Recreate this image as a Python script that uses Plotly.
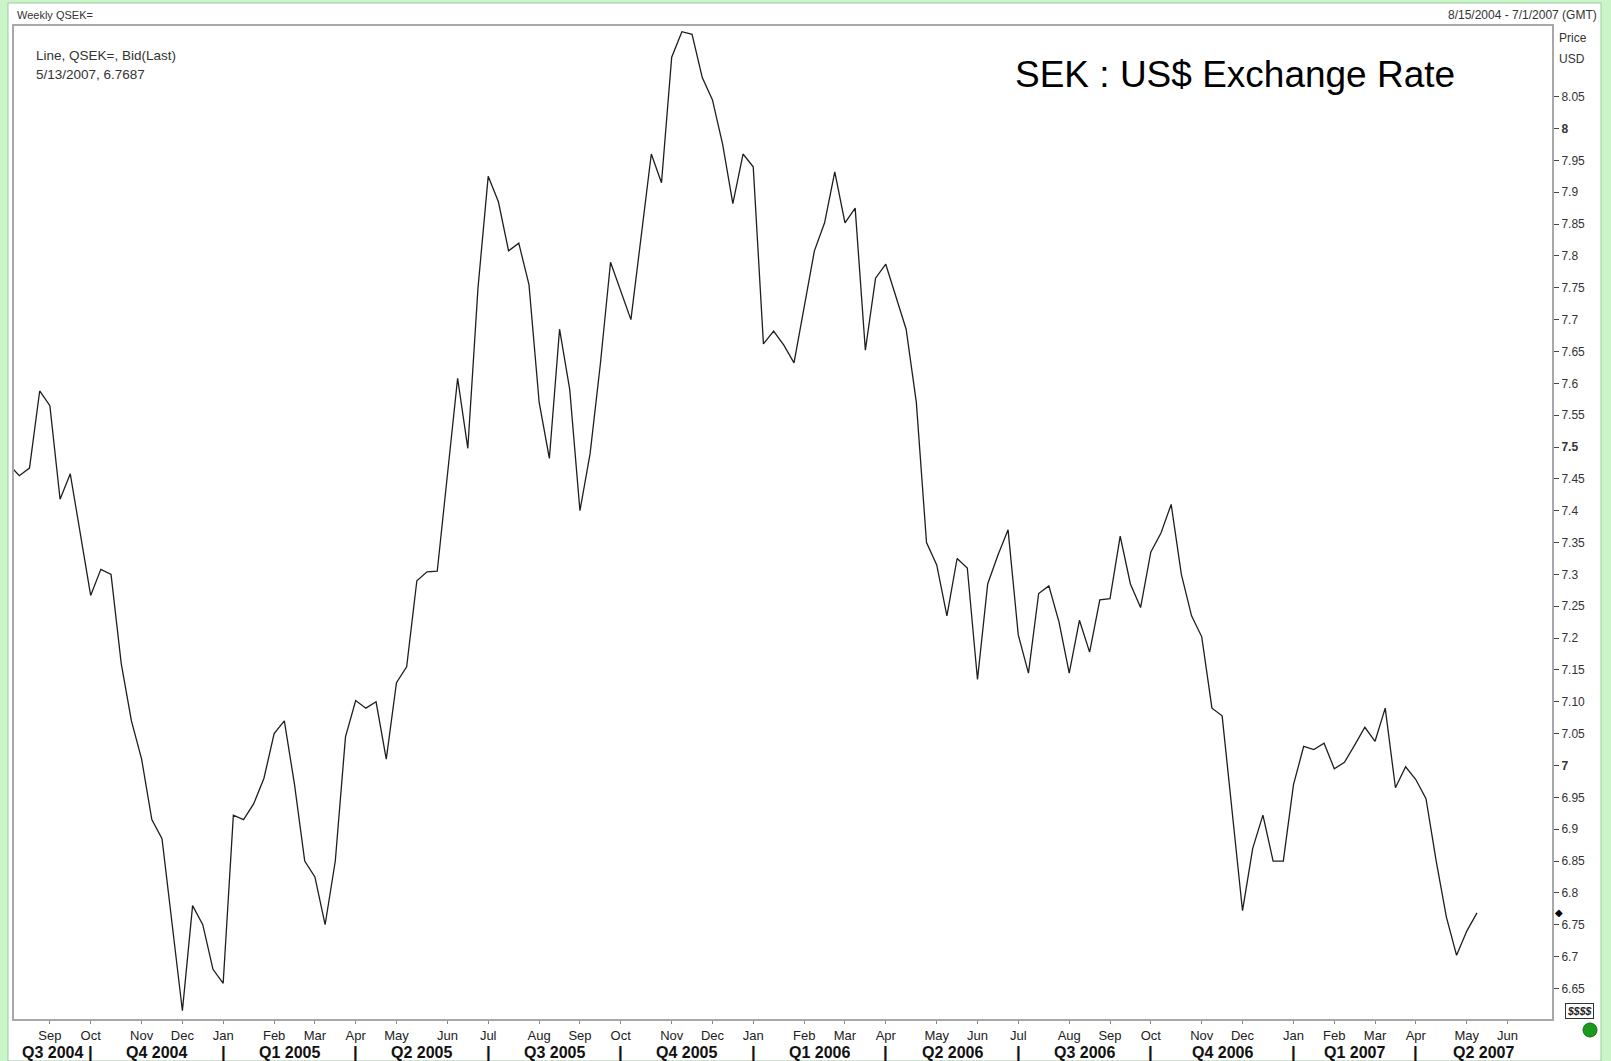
import plotly.graph_objects as go
import pandas as pd

# ---------------- data ----------------
first_week = "2004-08-08"      # weekly (Sunday) observations
axis_end = "2007-06-24"        # last weekly slot shown on the axis
sek_usd = [
    7.472, 7.455, 7.467, 7.588, 7.565, 7.418, 7.458, 7.363, 7.267, 7.308,
    7.300, 7.160, 7.070, 7.010, 6.915, 6.885, 6.750, 6.615, 6.780, 6.750,
    6.680, 6.658, 6.922, 6.915, 6.940, 6.980, 7.050, 7.070, 6.970, 6.850,
    6.825, 6.750, 6.850, 7.045, 7.102, 7.090, 7.100, 7.010, 7.130, 7.155,
    7.290, 7.304, 7.305, 7.460, 7.608, 7.498, 7.750, 7.925, 7.885, 7.808,
    7.820, 7.755, 7.570, 7.482, 7.685, 7.590, 7.400, 7.490, 7.630, 7.790,
    7.745, 7.700, 7.830, 7.960, 7.915, 8.112, 8.152, 8.148, 8.080, 8.045,
    7.975, 7.882, 7.960, 7.940, 7.662, 7.682, 7.660, 7.632, 7.720, 7.808,
    7.852, 7.932, 7.852, 7.875, 7.652, 7.765, 7.787, 7.735, 7.685, 7.570,
    7.350, 7.315, 7.235, 7.325, 7.310, 7.135, 7.285, 7.330, 7.370, 7.205,
    7.145, 7.270, 7.282, 7.225, 7.145, 7.228, 7.178, 7.260, 7.262, 7.360,
    7.285, 7.248, 7.335, 7.365, 7.410, 7.300, 7.235, 7.202, 7.090, 7.078,
    6.925, 6.772, 6.870, 6.922, 6.850, 6.850, 6.970, 7.030, 7.025, 7.035,
    6.995, 7.005, 7.032, 7.060, 7.038, 7.090, 6.965, 6.998, 6.978, 6.948,
    6.850, 6.762, 6.702, 6.740, 6.7687,
]
y_tick_values = [8.05, 8.00, 7.95, 7.90, 7.85, 7.80, 7.75, 7.70, 7.65, 7.60,
                 7.55, 7.50, 7.45, 7.40, 7.35, 7.30, 7.25, 7.20, 7.15, 7.10,
                 7.05, 7.00, 6.95, 6.90, 6.85, 6.80, 6.75, 6.70, 6.65]
y_tick_labels = ["8.05", "<b>8</b>", "7.95", "7.9", "7.85", "7.8", "7.75", "7.7",
                 "7.65", "7.6", "7.55", "<b>7.5</b>", "7.45", "7.4", "7.35", "7.3",
                 "7.25", "7.2", "7.15", "7.10", "7.05", "<b>7</b>", "6.95", "6.9",
                 "6.85", "6.8", "6.75", "6.7", "6.65"]
title_text = "SEK : US$ Exchange Rate"
header_left = "Weekly QSEK="
header_right = "8/15/2004 - 7/1/2007 (GMT)"
info_line1 = "Line, QSEK=, Bid(Last)"
info_line2 = "5/13/2007, 6.7687"

# ---------------- derived axis info ----------------
axis_dates = pd.date_range(first_week, axis_end, freq="7D")
week_idx = list(range(-1, len(axis_dates) - 1))      # 0 = 8/15/2004
x_data = week_idx[:len(sek_usd)]

X_LEFT, X_RIGHT = -0.52, 150.36
Y_LOW, Y_HIGH = 6.602, 8.161

tick_vals, tick_text, q_bounds = [], [], []
for k in range(1, len(axis_dates)):
    d, p = axis_dates[k], axis_dates[k - 1]
    if d.month != p.month and week_idx[k] >= 0:
        tick_vals.append(week_idx[k])
        tick_text.append(d.strftime("%b"))
        if d.month in (1, 4, 7, 10):
            q_bounds.append((week_idx[k], d))

NARROW = "Liberation Sans Narrow, Arial Narrow, Liberation Sans, Arial, sans-serif"
ARIAL = "Liberation Sans, Arial, sans-serif"

# plot area in pixels
W, H = 1611, 1061
PL, PR, PT, PB = 14, 1552, 26, 1019


def px(xp):
    return (xp - PL) / (PR - PL)


def py(yp):
    return (PB - yp) / (PB - PT)


fig = go.Figure()
fig.add_trace(go.Scatter(x=x_data, y=sek_usd, mode="lines",
                         line=dict(color="#1e1e1e", width=1.3),
                         hoverinfo="x+y", showlegend=False))

annotations = []
# quarter labels
segs = [(X_LEFT, axis_dates[1])] + [(b, d) for b, d in q_bounds]
ends = [b for b, _ in q_bounds] + [X_RIGHT]
for (start, d), end in zip(segs, ends):
    q = (d.month - 1) // 3 + 1
    annotations.append(dict(x=(start + end) / 2, y=py(1052), xref="x", yref="paper",
                            text=f"<b>Q{q} {d.year}</b>", showarrow=False,
                            font=dict(family=NARROW, size=16, color="#111"),
                            xanchor="center", yanchor="middle"))
for b, _ in q_bounds:
    annotations.append(dict(x=b, y=py(1052), xref="x", yref="paper",
                            text="<b>|</b>", showarrow=False,
                            font=dict(family=NARROW, size=17, color="#111"),
                            xanchor="center", yanchor="middle"))

annotations += [
    dict(x=px(15), y=py(15), xref="paper", yref="paper", text=header_left,
         showarrow=False, xanchor="left", yanchor="middle",
         font=dict(family=NARROW, size=11, color="#333")),
    dict(x=px(1599), y=py(15), xref="paper", yref="paper", text=header_right,
         showarrow=False, xanchor="right", yanchor="middle",
         font=dict(family=NARROW, size=12, color="#333")),
    dict(x=px(1557), y=py(38), xref="paper", yref="paper", text="Price",
         showarrow=False, xanchor="left", yanchor="middle",
         font=dict(family=NARROW, size=12, color="#333")),
    dict(x=px(1557), y=py(59), xref="paper", yref="paper", text="USD",
         showarrow=False, xanchor="left", yanchor="middle",
         font=dict(family=NARROW, size=12, color="#333")),
    dict(x=px(34), y=py(55), xref="paper", yref="paper", text=info_line1,
         showarrow=False, xanchor="left", yanchor="middle",
         font=dict(family=NARROW, size=13.5, color="#333")),
    dict(x=px(34), y=py(74), xref="paper", yref="paper", text=info_line2,
         showarrow=False, xanchor="left", yanchor="middle",
         font=dict(family=NARROW, size=13.5, color="#333")),
    dict(x=px(1013), y=py(75), xref="paper", yref="paper", text=title_text,
         showarrow=False, xanchor="left", yanchor="middle",
         font=dict(family=ARIAL, size=37, color="#000")),
    dict(x=px(1559), y=sek_usd[-1], xref="paper", yref="y", text="◆",
         showarrow=False, xanchor="center", yanchor="middle",
         font=dict(family="DejaVu Sans", size=10, color="#000")),
    dict(x=px(1579), y=py(1011), xref="paper", yref="paper", text="<b><i>$$$$</i></b>",
         showarrow=False, xanchor="center", yanchor="middle",
         font=dict(family=NARROW, size=10.5, color="#222"),
         bordercolor="#333", borderwidth=1, borderpad=1, bgcolor="#ffffff"),
]

shapes = [
    # white panel inside green frame
    dict(type="rect", xref="paper", yref="paper", x0=px(8), x1=px(1601),
         y0=py(1061), y1=py(3), fillcolor="#ffffff",
         line=dict(color="#9fc99f", width=1), layer="below"),
    # green status dot
    dict(type="circle", xref="paper", yref="paper", x0=px(1583), x1=px(1597),
         y0=py(1037), y1=py(1023), fillcolor="#1a9a1a",
         line=dict(color="#0f6f0f", width=1)),
]

fig.update_layout(
    width=W, height=H,
    margin=dict(l=PL, r=W - PR, t=PT, b=H - PB, pad=0, autoexpand=False),
    paper_bgcolor="#c9f5c9", plot_bgcolor="#ffffff",
    showlegend=False,
    annotations=annotations, shapes=shapes,
    xaxis=dict(range=[X_LEFT, X_RIGHT], tickmode="array", tickvals=tick_vals,
               ticktext=tick_text, ticks="outside", ticklen=3, tickwidth=1,
               tickcolor="#888", showgrid=False, zeroline=False, automargin=False,
               showline=True, linecolor="#a8a8a8", linewidth=2, mirror=True,
               tickfont=dict(family=NARROW, size=13, color="#222")),
    yaxis=dict(range=[Y_LOW, Y_HIGH], side="right", tickmode="array",
               tickvals=y_tick_values, ticktext=y_tick_labels,
               ticks="outside", ticklen=5, tickwidth=1, tickcolor="#444",
               showgrid=False, zeroline=False, automargin=False,
               showline=True, linecolor="#a8a8a8", linewidth=2, mirror=True,
               tickfont=dict(family=NARROW, size=12, color="#333")),
)

fig.write_html("out.html",
               config={"displayModeBar": False},
               post_script="document.body.style.margin='0';"
                           "document.body.style.overflow='hidden';")
